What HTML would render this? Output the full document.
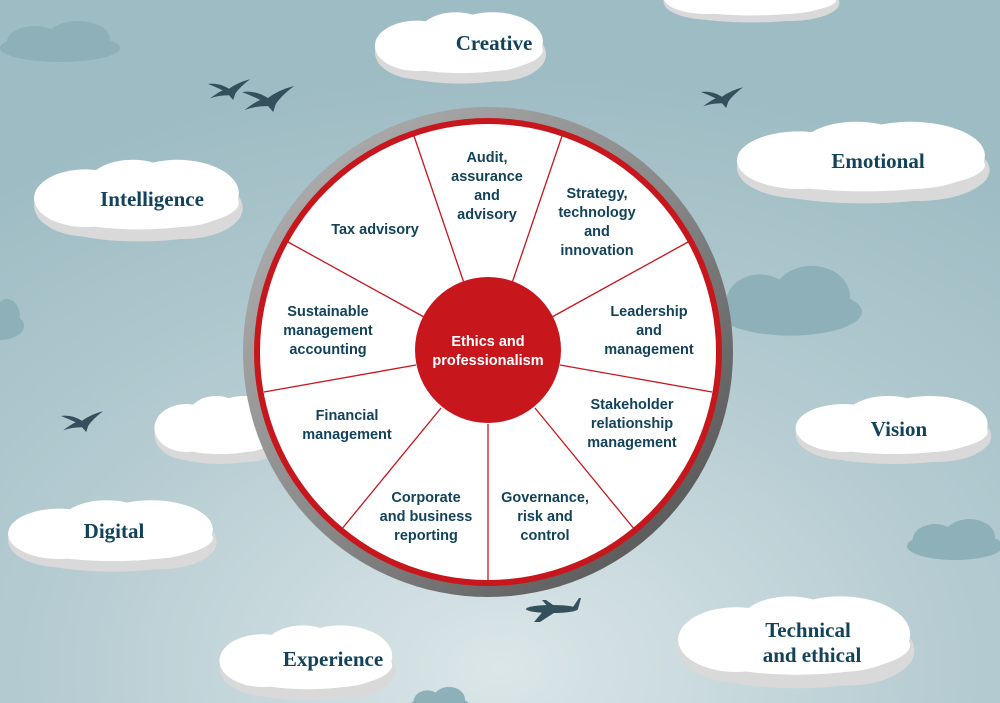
<!DOCTYPE html>
<html><head><style>
html,body{margin:0;padding:0;width:1000px;height:703px;overflow:hidden}
svg{display:block}
.c{font-family:"Liberation Serif",serif;font-weight:bold;fill:#12435a;font-size:21px;text-anchor:middle}
.w{font-family:"Liberation Sans",sans-serif;font-weight:bold;fill:#12435a;font-size:14.5px;text-anchor:middle}
</style></head><body>
<svg width="1000" height="703" viewBox="0 0 1000 703" xmlns="http://www.w3.org/2000/svg">
<defs>
<radialGradient id="bg" cx="0.5" cy="0.95" r="0.85">
<stop offset="0" stop-color="#dbe6e8"/><stop offset="0.55" stop-color="#b4cbd1"/><stop offset="1" stop-color="#9ebcc4"/>
</radialGradient>
<linearGradient id="ring" x1="0" y1="0" x2="1" y2="1">
<stop offset="0" stop-color="#b5b5b5"/><stop offset="0.5" stop-color="#8a8a8a"/><stop offset="1" stop-color="#4a4a4a"/>
</linearGradient>
<g id="cl">
<ellipse cx="0" cy="8" rx="80" ry="24" fill="#d9d9d9"/>
<ellipse cx="-40" cy="2" rx="42" ry="26" fill="#d9d9d9"/>
<ellipse cx="35" cy="4" rx="46" ry="26" fill="#d9d9d9"/>
<ellipse cx="0" cy="0" rx="78" ry="22" fill="#fff"/>
<ellipse cx="-42" cy="-4" rx="40" ry="24" fill="#fff"/>
<ellipse cx="30" cy="-8" rx="48" ry="28" fill="#fff"/>
<ellipse cx="-5" cy="-14" rx="36" ry="22" fill="#fff"/>
</g>
<g id="gc" fill="#8eb0b9">
<ellipse cx="0" cy="4" rx="60" ry="14"/><ellipse cx="-25" cy="-2" rx="28" ry="16"/><ellipse cx="18" cy="-5" rx="32" ry="18"/>
</g>
<path id="bird" d="M0,0 Q10,-2 20,6 Q28,-2 40,-6 Q30,4 26,12 L24,20 L20,14 Q10,14 2,18 Q10,10 14,8 Q8,4 0,0 Z" fill="#34505c"/>
</defs>
<rect width="1000" height="703" fill="url(#bg)"/>
<use href="#gc" transform="translate(60,44)"/>
<use href="#gc" transform="translate(790,305) scale(1.2,1.7)"/>
<use href="#gc" transform="translate(0,322) scale(0.4,1)"/>
<use href="#gc" transform="translate(955,542) scale(0.8,1)"/>
<use href="#gc" transform="translate(440,703) scale(0.5,0.7)"/>
<use href="#cl" transform="translate(752,0) scale(1.08,0.7)"/>
<use href="#cl" transform="translate(461,50) scale(1.05,1.05)"/>
<use href="#cl" transform="translate(864,165) scale(1.55,1.2)"/>
<use href="#cl" transform="translate(139,203) scale(1.28,1.2)"/>
<use href="#cl" transform="translate(220,432) scale(0.8,1)"/>
<use href="#cl" transform="translate(894,432) scale(1.2,1)"/>
<use href="#cl" transform="translate(113,538) scale(1.28,1.05)"/>
<use href="#cl" transform="translate(308,665) scale(1.08,1.1)"/>
<use href="#cl" transform="translate(797,645) scale(1.45,1.35)"/>
<text class="c" x="494" y="50">Creative</text>
<text class="c" x="878" y="168">Emotional</text>
<text class="c" x="152" y="206">Intelligence</text>
<text class="c" x="899" y="436">Vision</text>
<text class="c" x="114" y="538">Digital</text>
<text class="c" x="333" y="666">Experience</text>
<text class="c" x="808" y="637">Technical</text>
<text class="c" x="812" y="662">and ethical</text>
<use href="#bird" transform="translate(208,84) scale(1.05,0.8)"/>
<use href="#bird" transform="translate(242,92) scale(1.3,1)"/>
<use href="#bird" transform="translate(701,92) scale(1.05,0.8)"/>
<use href="#bird" transform="translate(61,416) scale(1.05,0.8)"/>
<g fill="#34505c"><ellipse cx="552" cy="609" rx="26" ry="4"/><path d="M545,609 L560,609 L540,622 L534,622Z"/><path d="M548,607 L556,607 L546,600 L542,600Z"/><path d="M573,607 L579,598 L581,598 L578,609Z"/></g>
<circle cx="488" cy="352" r="245" fill="url(#ring)"/>
<circle cx="488" cy="352" r="234" fill="#c8161d"/>
<circle cx="488" cy="352" r="228" fill="#fff"/>
<g stroke="#c8161d" stroke-width="1.3">
<line x1="464" y1="283" x2="414" y2="136"/>
<line x1="512" y1="283" x2="562" y2="136"/>
<line x1="552" y1="317" x2="688" y2="242"/>
<line x1="424" y1="317" x2="288" y2="242"/>
<line x1="560" y1="365" x2="712" y2="392"/>
<line x1="416" y1="365" x2="264" y2="392"/>
<line x1="535" y1="408" x2="635" y2="530"/>
<line x1="441" y1="408" x2="341" y2="530"/>
<line x1="488" y1="424" x2="488" y2="580"/>
</g>
<circle cx="488" cy="350" r="73" fill="#c8161d"/>
<text class="w" style="fill:#fff" x="488" y="346">Ethics and</text>
<text class="w" style="fill:#fff" x="488" y="365">professionalism</text>
<text class="w" x="487" y="162">Audit,</text><text class="w" x="487" y="181">assurance</text><text class="w" x="487" y="200">and</text><text class="w" x="487" y="219">advisory</text>
<text class="w" x="597" y="198">Strategy,</text><text class="w" x="597" y="217">technology</text><text class="w" x="597" y="236">and</text><text class="w" x="597" y="255">innovation</text>
<text class="w" x="375" y="234">Tax advisory</text>
<text class="w" x="649" y="316">Leadership</text><text class="w" x="649" y="335">and</text><text class="w" x="649" y="354">management</text>
<text class="w" x="328" y="316">Sustainable</text><text class="w" x="328" y="335">management</text><text class="w" x="328" y="354">accounting</text>
<text class="w" x="632" y="409">Stakeholder</text><text class="w" x="632" y="428">relationship</text><text class="w" x="632" y="447">management</text>
<text class="w" x="347" y="420">Financial</text><text class="w" x="347" y="439">management</text>
<text class="w" x="426" y="502">Corporate</text><text class="w" x="426" y="521">and business</text><text class="w" x="426" y="540">reporting</text>
<text class="w" x="545" y="502">Governance,</text><text class="w" x="545" y="521">risk and</text><text class="w" x="545" y="540">control</text>
</svg>
</body></html>
